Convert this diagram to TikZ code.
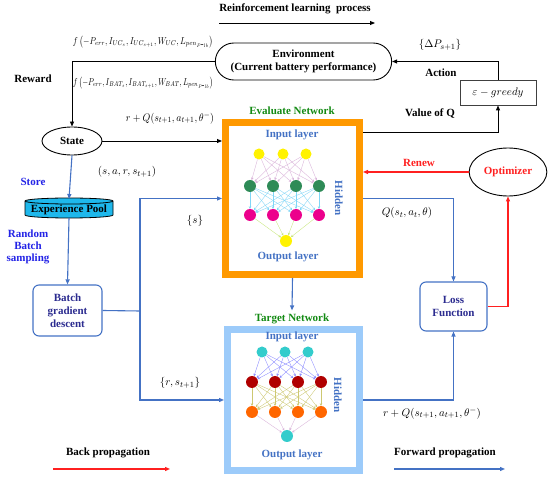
\documentclass[tikz,border=0pt]{standalone}
\usepackage{fontspec}
\usepackage{graphicx}
\setmainfont{Liberation Serif}
\usetikzlibrary{arrows.meta,shapes.geometric,shapes.misc,calc}
\definecolor{orangec}{HTML}{FF9900}
\definecolor{lbluec}{HTML}{9CCBFA}
\definecolor{netblue}{HTML}{4472C4}
\definecolor{brblue}{HTML}{2323E6}
\definecolor{navy}{HTML}{2B2B8F}
\definecolor{dgreen}{HTML}{138A13}
\definecolor{poolc}{HTML}{1EB8EC}
\definecolor{seag}{HTML}{2E8B57}
\definecolor{cyann}{HTML}{33CCCC}
\definecolor{dred}{HTML}{B00000}
\definecolor{orn}{HTML}{FF6600}
\definecolor{redc}{HTML}{FF2020}
\begin{document}
\begin{tikzpicture}[x=1pt,y=-1pt,
  font=\fontsize{11}{13}\selectfont,
  >={Triangle[length=5pt,width=4pt]},
  lbl/.style={font=\fontsize{11}{13}\selectfont\bfseries},
  mth/.style={font=\fontsize{11}{13}\selectfont},
  fml/.style={font=\fontsize{10}{12}\selectfont},
  blk/.style={draw=black,line width=0.9pt},
  bln/.style={draw=netblue,line width=1.1pt},
  rdn/.style={draw=redc,line width=1.1pt},
  nbox/.style={draw=netblue,line width=1.1pt,rounded corners=6pt,align=center,text=navy,font=\fontsize{11}{13}\selectfont\bfseries},
  frame/.style={line width=7pt,fill=white,inner sep=0pt},
  neur/.style={circle,inner sep=0pt,minimum size=12pt},
  e1/.style={draw=#1,line width=0.35pt,-{Stealth[length=2.5pt,width=2.5pt]}}
]
\useasboundingbox (0,0) rectangle (550,481);

% top arrow
\node[lbl] (rlp) at (295,9) {Reinforcement learning\ \ process};
\coordinate (rla) at (219,23); \coordinate (rlb) at (375,23);
\draw[blk,->] (rla) -- (rlb);

% environment
\node[draw,line width=0.9pt,rounded rectangle,minimum width=183pt,minimum height=37pt,align=center,lbl] (env) at (303.5,61.5) {Environment\\(Current battery performance)};
\node[fml] (f1) at (143,42) {\resizebox{140pt}{\height}{$f\left(-P_{err},I_{UC_s},I_{UC_{s+1}},W_{UC},L_{pen_{P\mbox{-}lb}}\right)$}};
\node[fml] (f2) at (143,83) {\resizebox{140pt}{\height}{$f\left(-P_{err},I_{BAT_s},I_{BAT_{s+1}},W_{BAT},L_{pen_{P\mbox{-}lb}}\right)$}};
\node[lbl] (rew) at (33,79) {Reward};

% state
\node[draw,line width=0.9pt,ellipse,minimum width=60pt,minimum height=28pt,lbl] (state) at (72,141) {State};
\draw[blk,->] (env.west) -| (state.north);

% greedy
\node[draw=black!75,line width=0.9pt,minimum width=76pt,minimum height=25pt,mth] (greedy) at (498,92.5) {$\varepsilon-greedy$};
\draw[blk,->] (greedy.north) |- (env.east);
\node[lbl] (act) at (441,73) {Action};
\node[mth] (dp) at (440,45) {$\left\{\Delta P_{s+1}\right\}$};

% evaluate frame
\node[frame,draw=orangec,minimum width=134pt,minimum height=152pt] (eval) at (292.5,198.5) {};
\node[lbl,text=dgreen] (evl) at (292,111) {Evaluate Network};
\node[lbl,text=netblue] (ein) at (292,135) {Input layer};
\node[lbl,text=netblue] (eout) at (288,257) {Output layer};
\node[lbl,text=netblue,rotate=-90] (ehid) at (339,198) {Hidden};
\foreach \i/\x in {1/259,2/283,3/306} \node[neur,fill=yellow,minimum size=11pt] (ea\i) at (\x,154) {};
\foreach \i/\x in {1/250,2/273,3/296,4/319} {
  \node[neur,fill=seag] (eb\i) at (\x,186) {};
  \node[neur,fill=magenta] (ec\i) at (\x,215) {};
}
\node[neur,fill=yellow] (ed) at (286,241) {};
\foreach \i in {1,2,3} \foreach \j in {1,2,3,4} \draw[e1=violet!30] (ea\i) -- (eb\j);
\foreach \i in {1,2,3,4} \foreach \j in {1,2,3,4} \draw[e1=cyan!50] (eb\i) -- (ec\j);
\foreach \i in {1,2,3,4} \draw[e1=yellow!60!green!55] (ec\i) -- (ed);

% target frame
\node[frame,draw=lbluec,minimum width=132pt,minimum height=141pt] (target) at (293.5,400) {};
\node[lbl,text=dgreen] (tnl) at (292,319) {Target Network};
\node[lbl,text=netblue] (tin) at (292,337) {Input layer};
\node[lbl,text=netblue] (tout) at (292,455) {Output layer};
\node[lbl,text=netblue,rotate=-90] (thid) at (338,395) {Hidden};
\foreach \i/\x in {1/262,2/285,3/308} \node[neur,fill=cyann,minimum size=11pt] (ta\i) at (\x,352) {};
\foreach \i/\x in {1/252,2/275,3/298,4/321} {
  \node[neur,fill=dred] (tb\i) at (\x,382) {};
  \node[neur,fill=orn] (tc\i) at (\x,412) {};
}
\node[neur,fill=cyann] (td) at (287,436) {};
\foreach \i in {1,2,3} \foreach \j in {1,2,3,4} \draw[e1=blue!45] (ta\i) -- (tb\j);
\foreach \i in {1,2,3,4} \foreach \j in {1,2,3,4} \draw[e1=olive!45] (tb\i) -- (tc\j);
\foreach \i in {1,2,3,4} \draw[e1=violet!30] (tc\i) -- (td);

\draw[bln,->] (eval.south) -- (tnl.north);

% state -> eval
\draw[blk,->] (state.east) -- (state.east -| eval.west);
\node[mth] (rq1) at (170,118) {\resizebox{88pt}{\height}{$r+Q(s_{t+1},a_{t+1},\theta^{-})$}};
\node[mth] (sars) at (127,172) {$\left(s,a,r,s_{t+1}\right)$};

% value of Q
\coordinate (qv) at (498,132);
\draw[blk,->] (eval.east |- qv) -- (qv) -- (greedy.south);
\node[lbl] (vq) at (430,114) {Value of Q};

% experience pool
\coordinate (pooltop) at (69,199);
\coordinate (poolbot) at (69,218);
\filldraw[fill=poolc,draw=black,line width=0.8pt] (25,201) -- (25,215) arc[start angle=180,end angle=0,x radius=44,y radius=3] -- (113,201) arc[start angle=0,end angle=-180,x radius=44,y radius=3] -- cycle;
\draw[line width=0.8pt] (25,201) arc[start angle=180,end angle=0,x radius=44,y radius=3];
\node[lbl] (pool) at (69,209.5) {Experience Pool};
\draw[bln,->] (state.south) -- (pooltop);
\node[lbl,text=brblue] (store) at (33,182) {Store};
\node[lbl,text=brblue,align=center] (rbs) at (28,246.5) {Random\\[-1pt]Batch\\[-1pt]sampling};

% batch
\node[nbox,minimum width=69pt,minimum height=51pt] (batch) at (67.5,310.5) {Batch\\gradient\\descent};
\draw[bln,->] (poolbot) -- (batch.north);
\coordinate (jn) at (140,311);
\draw[bln] (batch.east) -- (jn);
\draw[bln,->] (jn) |- (eval.west);
\draw[bln,->] (jn) |- (target.west);
\node[mth] (sset) at (195,221) {$\left\{s\right\}$};
\node[mth] (rset) at (180,383) {$\left\{r,s_{t+1}\right\}$};

% optimizer & loss
\node[draw,line width=0.9pt,ellipse,minimum width=76pt,minimum height=48pt,lbl,text=redc] (opt) at (508,172) {Optimizer};
\draw[rdn,->] (opt.west) -- (opt.west -| eval.east);
\node[lbl,text=redc] (renew) at (419,163) {Renew};
\node[nbox,minimum width=67pt,minimum height=49pt] (loss) at (453.5,306.5) {Loss\\Function};
\draw[bln,->] (eval.east) -| (loss.north);
\node[mth] (qst) at (407,213) {$Q(s_t,a_t,\theta)$};
\draw[bln,->] (target.east) -| (loss.south);
\node[mth] (rq2) at (432,413) {$r+Q(s_{t+1},a_{t+1},\theta^{-})$};
\draw[rdn,->] (loss.east) -| (opt.south);

% legend
\node[lbl] (bp) at (108,453) {Back propagation};
\coordinate (bpa) at (53,469); \coordinate (bpb) at (170,469);
\draw[rdn,->] (bpa) -- (bpb);
\node[lbl] (fp) at (445,453) {Forward propagation};
\coordinate (fpa) at (394,469); \coordinate (fpb) at (505,469);
\draw[bln,->] (fpa) -- (fpb);
\end{tikzpicture}
\end{document}
